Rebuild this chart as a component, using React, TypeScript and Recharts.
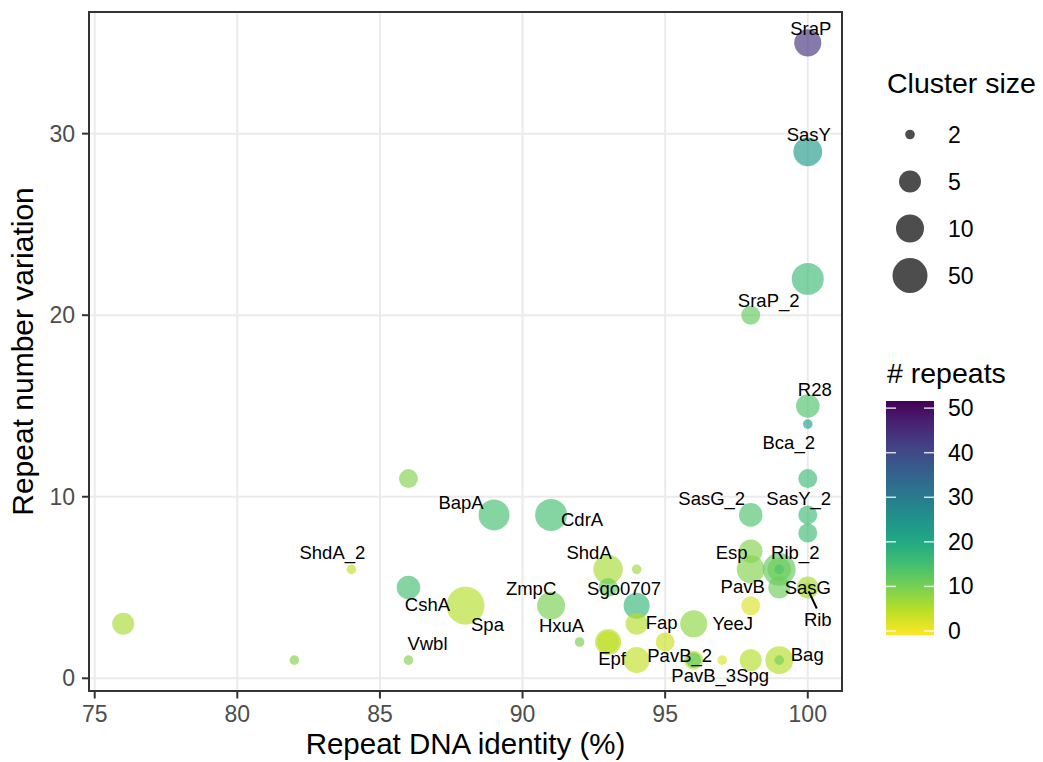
import React from 'react';
import {
  ScatterChart,
  Scatter,
  XAxis,
  YAxis,
  CartesianGrid,
  ReferenceArea,
  Legend,
  Label,
} from 'recharts';

// --- data ---
const names = [
  'SraP', 'SasY', '', 'SraP_2', 'R28', 'Bca_2', '', 'SasY_2', '', '',
  'BapA', 'CdrA', 'SasG_2', 'ShdA_2', 'CshA', 'Spa', 'ZmpC', '', '', 'Vwbl',
  'ShdA', '', 'Sgo0707', '', 'Fap', 'HxuA', 'Epf', '', '', '',
  '', 'PavB_2', '', 'PavB_3Spg', '', 'Bag', '', 'YeeJ', 'Esp', 'PavB',
  'Rib_2', '', '', '', 'SasG', 'Rib',
];
const identity = [
  100, 100, 100, 98, 100, 100, 100, 100, 100, 86,
  89, 91, 98, 84, 86, 88, 91, 76, 82, 86,
  93, 94, 93, 94, 94, 92, 93, 93, 94, 95,
  96, 96, 96, 97, 98, 99, 99, 98, 98, 98,
  99, 99, 99, 99, 100, 100,
];
const variation = [
  35, 29, 22, 20, 15, 14, 11, 9, 8, 11,
  9, 9, 9, 6, 5, 4, 4, 3, 1, 1,
  6, 6, 5, 4, 3, 2, 2, 2, 1, 2,
  3, 1, 1, 1, 1, 1, 1, 4, 7, 6,
  6, 6, 6, 5, 5, 5,
];
const clusterSize = [
  9, 12, 25, 4, 6, 2, 4, 4, 4, 4,
  20, 25, 6, 2, 6, 100, 10, 5, 2, 2,
  14, 2, 4, 8, 5, 2, 8, 5, 8, 4,
  9, 4, 3, 2, 5, 10, 2, 4, 6, 10,
  30, 6, 2, 5, 5, 2,
];
const repeats = [
  44, 23, 16, 12, 14, 22, 16, 16, 16, 9,
  15, 15, 14, 4, 15, 5, 10, 6, 9, 9,
  6, 7, 11, 17, 5, 10, 5, 4, 4, 3,
  8, 5, 12, 2, 5, 5, 10, 2, 9, 9,
  12, 11, 14, 11, 6, 6,
];

const xTicks = [75, 80, 85, 90, 95, 100];
const yTicks = [0, 10, 20, 30];
const sizeBreaks = [2, 5, 10, 50];
const repeatBreaks = [0, 10, 20, 30, 40, 50];

const points = names.map((name, i) => ({
  name,
  x: identity[i],
  y: variation[i],
  size: clusterSize[i],
  repeats: repeats[i],
}));

// --- styling ---
const FONT = '"Liberation Sans", Arial, Helvetica, sans-serif';
const W = 1043;
const H = 762;
const sizeRadii = [4.8, 11, 14, 17.5];
const colourLimits: [number, number] = [-0.9, 51.6];

// label nudges (px) mimicking ggrepel placement
const labelOffsets: Record<string, { dx: number; dy: number; seg?: number[] }> = {
  SraP: { dx: 3, dy: -14 },
  SasY: { dx: 1, dy: -17 },
  SraP_2: { dx: 18, dy: -15 },
  R28: { dx: 7, dy: -16 },
  Bca_2: { dx: -19, dy: 18 },
  SasY_2: { dx: -9, dy: -16 },
  BapA: { dx: -33, dy: -12 },
  CdrA: { dx: 31, dy: 5 },
  SasG_2: { dx: -39, dy: -16 },
  ShdA_2: { dx: -19, dy: -17 },
  CshA: { dx: 19, dy: 17 },
  Spa: { dx: 22, dy: 19 },
  ZmpC: { dx: -20, dy: -17 },
  Vwbl: { dx: 19, dy: -17 },
  ShdA: { dx: -19, dy: -17 },
  Sgo0707: { dx: 16, dy: 1 },
  Fap: { dx: 25, dy: -1 },
  HxuA: { dx: -18, dy: -16 },
  Epf: { dx: 4, dy: 17 },
  PavB_2: { dx: -14, dy: -5 },
  PavB_3Spg: { dx: -2, dy: 15 },
  Bag: { dx: 28, dy: -6 },
  YeeJ: { dx: -18, dy: 18 },
  Esp: { dx: -19, dy: 1 },
  PavB: { dx: -8, dy: 17 },
  Rib_2: { dx: 16, dy: -17 },
  SasG: { dx: 0, dy: 0 },
  Rib: { dx: 10, dy: 32, seg: [1, 4, 9, 21] },
};

const VIRIDIS = [
  '#440154', '#482475', '#414487', '#355f8d', '#2a788e', '#21918c',
  '#22a884', '#44bf70', '#7ad151', '#bddf26', '#fde725',
];

function hexToRgb(h: string) {
  return [1, 3, 5].map((k) => parseInt(h.slice(k, k + 2), 16));
}

function viridis(t: number) {
  const c = Math.max(0, Math.min(1, t)) * (VIRIDIS.length - 1);
  const i = Math.min(Math.floor(c), VIRIDIS.length - 2);
  const f = c - i;
  const a = hexToRgb(VIRIDIS[i]);
  const b = hexToRgb(VIRIDIS[i + 1]);
  const m = a.map((v, k) => Math.round(v + (b[k] - v) * f));
  return `rgb(${m[0]},${m[1]},${m[2]})`;
}

// direction = -1: few repeats -> yellow, many -> purple
function repeatColour(v: number) {
  const t = (v - colourLimits[0]) / (colourLimits[1] - colourLimits[0]);
  return viridis(1 - t);
}

function radius(s: number) {
  const lx = sizeBreaks.map(Math.log);
  const l = Math.log(s);
  let i = 0;
  if (l > lx[lx.length - 1]) i = lx.length - 2;
  else while (i < lx.length - 2 && l > lx[i + 1]) i++;
  const r = sizeRadii[i] + ((l - lx[i]) / (lx[i + 1] - lx[i])) * (sizeRadii[i + 1] - sizeRadii[i]);
  return Math.max(3.5, r);
}

const Bubble = (props: any) => {
  const { cx, cy, payload } = props;
  return (
    <circle cx={cx} cy={cy} r={radius(payload.size)} fill={repeatColour(payload.repeats)} fillOpacity={0.65} />
  );
};

const RepelLabel = (props: any) => {
  const { cx, cy, payload } = props;
  const off = labelOffsets[payload.name];
  if (!payload.name || !off) return <g />;
  return (
    <g>
      {off.seg && (
        <line
          x1={cx + off.seg[0]} y1={cy + off.seg[1]}
          x2={cx + off.seg[2]} y2={cy + off.seg[3]}
          stroke="#000" strokeWidth={2}
        />
      )}
      <text
        x={cx + off.dx} y={cy + off.dy}
        textAnchor="middle" dominantBaseline="central"
        fontFamily={FONT} fontSize={18.5} fill="#000"
      >
        {payload.name}
      </text>
    </g>
  );
};

// legend guides, drawn in page pixels
const barTop = 401;
const barBottom = 635;
const barY = (v: number) =>
  barBottom - ((v - colourLimits[0]) / (colourLimits[1] - colourLimits[0])) * (barBottom - barTop);

const GuideLegend = () => {
  const stops = Array.from({ length: 11 }, (_, k) => k / 10);
  return (
    <svg width={W} height={H} style={{ position: 'absolute', left: 0, top: 0, overflow: 'visible' }}>
      <defs>
        <linearGradient id="repeatsBar" x1="0" y1="1" x2="0" y2="0">
          {stops.map((s) => (
            <stop key={s} offset={s} stopColor={repeatColour(colourLimits[0] + s * (colourLimits[1] - colourLimits[0]))} />
          ))}
        </linearGradient>
      </defs>
      <g fontFamily={FONT}>
        <text x={887} y={93} fontSize={28.5} fill="#000">Cluster size</text>
        {sizeBreaks.map((s, i) => (
          <g key={s}>
            <circle cx={910} cy={134.5 + i * 47} r={radius(s)} fill="#4d4d4d" />
            <text x={948} y={134.5 + i * 47} fontSize={23} dominantBaseline="central" fill="#000">{s}</text>
          </g>
        ))}
        <text x={887} y={383} fontSize={28.5} fill="#000"># repeats</text>
        <rect x={886} y={barTop} width={48} height={barBottom - barTop} fill="url(#repeatsBar)" />
        {repeatBreaks.map((v) => (
          <g key={v}>
            <line x1={886} x2={896} y1={barY(v)} y2={barY(v)} stroke="#fff" strokeOpacity={0.8} strokeWidth={1.5} />
            <line x1={924} x2={934} y1={barY(v)} y2={barY(v)} stroke="#fff" strokeOpacity={0.8} strokeWidth={1.5} />
            <text x={948} y={barY(v)} fontSize={23} dominantBaseline="central" fill="#000">{v}</text>
          </g>
        ))}
      </g>
    </svg>
  );
};

export default function App() {
  // pinned to the page corner so chart pixels line up with the picture
  return (
    <div style={{ width: W, height: H, position: 'absolute', left: 0, top: 0, fontFamily: FONT }}>
      <ScatterChart width={W} height={H} margin={{ top: 12, right: 201, bottom: 0, left: 8 }}>
        <CartesianGrid stroke="#ebebeb" strokeWidth={2} horizontalValues={yTicks} verticalValues={xTicks} />
        <XAxis
          type="number"
          dataKey="x"
          domain={[74.8, 101.2]}
          ticks={xTicks}
          allowDataOverflow
          height={71}
          axisLine={false}
          tickSize={7.5}
          tickMargin={7}
          tickLine={{ stroke: '#333333', strokeWidth: 2 }}
          tick={{ fill: '#4d4d4d', fontSize: 23, fontFamily: FONT }}
        >
          <Label
            content={() => (
              <text x={465.5} y={753.5} textAnchor="middle" fontFamily={FONT} fontSize={29.5} fill="#000">
                Repeat DNA identity (%)
              </text>
            )}
          />
        </XAxis>
        <YAxis
          type="number"
          dataKey="y"
          domain={[-0.7, 36.7]}
          ticks={yTicks}
          allowDataOverflow
          width={81}
          axisLine={false}
          tickSize={7}
          tickMargin={7}
          tickLine={{ stroke: '#333333', strokeWidth: 2 }}
          tick={{ fill: '#4d4d4d', fontSize: 23, fontFamily: FONT }}
        >
          <Label
            content={() => (
              <text
                x={33} y={351.5}
                transform="rotate(-90 33 351.5)"
                textAnchor="middle"
                fontFamily={FONT} fontSize={30} fill="#000"
              >
                Repeat number variation
              </text>
            )}
          />
        </YAxis>
        <Scatter data={points} shape={<Bubble />} isAnimationActive={false} />
        <Scatter data={points} shape={<RepelLabel />} isAnimationActive={false} />
        <ReferenceArea
          x1={74.8} x2={101.2} y1={-0.7} y2={36.7}
          fill="none" stroke="#333333" strokeWidth={2} strokeOpacity={1}
          ifOverflow="visible"
        />
        <Legend
          layout="vertical"
          align="center"
          verticalAlign="middle"
          wrapperStyle={{ left: 0, top: 0, width: W, height: H, pointerEvents: 'none', overflow: 'visible' }}
          content={() => <GuideLegend />}
        />
      </ScatterChart>
    </div>
  );
}
